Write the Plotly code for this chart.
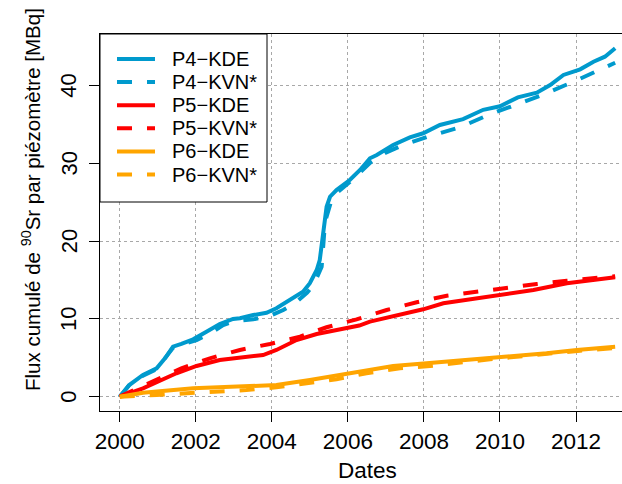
import plotly.graph_objects as go

# Cumulative 90Sr flux per piezometer [MBq], decimal years
p4_kde_t = [2000.0, 2000.25, 2000.61, 2000.97, 2001.2, 2001.40, 2001.62, 2001.93, 2002.28, 2002.63,
            2002.98, 2003.16, 2003.51, 2003.86, 2004.12, 2004.47, 2004.82, 2005.0, 2005.18, 2005.26,
            2005.35, 2005.44, 2005.53, 2005.70, 2006.05, 2006.32, 2006.58, 2006.76, 2007.19, 2007.63,
            2007.98, 2008.42, 2009.03, 2009.56, 2010.0, 2010.47, 2010.97, 2011.32, 2011.67, 2012.11,
            2012.46, 2012.76, 2013.03]
p4_kde_v = [0.0, 1.5, 2.79, 3.65, 5.0, 6.43, 6.78, 7.38, 8.36, 9.35,
            10.0, 10.1, 10.5, 10.8, 11.37, 12.44, 13.5, 14.59, 16.3, 17.58,
            21.0, 24.44, 25.72, 26.58, 27.87, 29.16, 30.66, 31.09, 32.37, 33.36,
            33.88, 34.95, 35.70, 36.9, 37.35, 38.5, 39.1, 40.09, 41.38, 42.11,
            43.09, 43.73, 44.81]

p4_kvn_t = [2000.0, 2000.25, 2000.61, 2000.97, 2001.4, 2001.62, 2002.02, 2002.4, 2002.72, 2003.0,
            2003.51, 2004.0, 2004.3, 2004.6, 2004.93, 2005.1, 2005.31, 2005.40, 2005.57, 2005.75,
            2006.05, 2006.35, 2006.62, 2007.0, 2007.46, 2008.16, 2008.95, 2009.69, 2010.44, 2011.18,
            2011.93, 2012.63, 2012.81, 2013.03]
p4_kvn_v = [0.0, 1.5, 2.7, 3.55, 6.3, 6.7, 7.29, 8.2, 9.22, 9.7,
            9.95, 10.5, 11.15, 12.0, 13.4, 14.4, 16.7, 22.5, 25.3, 26.4,
            27.6, 28.9, 30.23, 31.4, 32.37, 33.53, 34.65, 36.23, 37.65, 38.93,
            40.51, 42.02, 42.44, 42.95]

p5_kde_t = [2000.0, 2000.61, 2001.49, 2002.02, 2002.63, 2003.25, 2003.77, 2004.12, 2004.65, 2005.18,
            2005.88, 2006.3, 2006.58, 2007.19, 2007.98, 2008.51, 2009.56, 2010.88, 2011.76, 2013.03]
p5_kde_v = [0.0, 1.08, 3.01, 3.95, 4.72, 5.02, 5.36, 6.01, 7.29, 8.06,
            8.8, 9.15, 9.65, 10.29, 11.24, 12.01, 12.78, 13.72, 14.59, 15.36]

p5_kvn_t = [2000.0, 2000.88, 2001.62, 2002.37, 2003.16, 2003.95, 2004.74, 2005.44, 2006.23, 2007.02,
            2007.81, 2008.60, 2009.39, 2010.18, 2010.97, 2011.76, 2012.55, 2013.03]
p5_kvn_v = [0.0, 1.93, 3.65, 4.94, 6.01, 6.78, 7.72, 8.93, 9.95, 11.15,
            12.14, 12.99, 13.5, 14.07, 14.5, 14.92, 15.36, 15.5]

p6_kde_t = [2000.0, 2000.61, 2001.93, 2003.25, 2004.12, 2005.0, 2005.88, 2006.58, 2007.19, 2008.07,
            2009.12, 2010.26, 2011.23, 2012.02, 2013.03]
p6_kde_v = [0.0, 0.51, 1.08, 1.38, 1.5, 2.15, 2.92, 3.52, 3.95, 4.3,
            4.72, 5.14, 5.58, 6.01, 6.43]

p6_kvn_t = [2000.0, 2000.26, 2000.97, 2001.76, 2002.55, 2003.33, 2004.12, 2004.91, 2005.70, 2006.49,
            2007.37, 2008.16, 2008.95, 2009.74, 2012.11, 2012.98, 2013.03]
p6_kvn_v = [0.0, 0.09, 0.22, 0.44, 0.64, 0.86, 1.21, 1.72, 2.24, 3.01,
            3.65, 3.95, 4.37, 4.81, 5.92, 6.22, 6.25]

series_names = ["P4\u2212KDE", "P4\u2212KVN*", "P5\u2212KDE", "P5\u2212KVN*", "P6\u2212KDE", "P6\u2212KVN*"]
series_t = [p4_kde_t, p4_kvn_t, p5_kde_t, p5_kvn_t, p6_kde_t, p6_kvn_t]
series_v = [p4_kde_v, p4_kvn_v, p5_kde_v, p5_kvn_v, p6_kde_v, p6_kvn_v]
series_col = ["#009ACD", "#009ACD", "#FF0000", "#FF0000", "#FFA500", "#FFA500"]
series_dash = ["solid", "15px,15px", "solid", "15px,15px", "solid", "15px,15px"]

x_ticks = [2000, 2002, 2004, 2006, 2008, 2010, 2012]
y_ticks = [0, 10, 20, 30, 40]

FONT = "Liberation Sans, Arial, sans-serif"
W, H = 622, 484
ML, MR, MT, MB = 100, 0, 34, 73
PW, PH = W - ML - MR, H - MT - MB
LW = 4


def px(x):
    return (x - ML) / PW


def py(y):
    return 1 - (y - MT) / PH


fig = go.Figure()
for name, t, v, c, d in zip(series_names, series_t, series_v, series_col, series_dash):
    fig.add_trace(go.Scatter(x=t, y=v, mode="lines", name=name, showlegend=False,
                             line=dict(color=c, width=LW, dash=d)))

fig.update_layout(
    width=W, height=H,
    margin=dict(l=ML, r=MR, t=MT, b=MB),
    paper_bgcolor="white", plot_bgcolor="white",
    font=dict(family=FONT, size=20, color="black"),
    xaxis=dict(range=[1999.48, 2013.21], tickvals=x_ticks, ticktext=[str(t) for t in x_ticks],
               ticks="outside", ticklen=10, tickcolor="black", tickwidth=1,
               showline=True, linecolor="black", linewidth=1, mirror=True,
               showgrid=True, gridcolor="#a8a8a8", griddash="dot", gridwidth=1,
               zeroline=False, tickfont=dict(size=22.5), ticklabelstandoff=0),
    yaxis=dict(range=[-1.84, 46.65], tickvals=y_ticks, showticklabels=False,
               ticks="outside", ticklen=10, tickcolor="black", tickwidth=1,
               showline=True, linecolor="black", linewidth=1,
               showgrid=True, gridcolor="#a8a8a8", griddash="dot", gridwidth=1,
               zeroline=False),
)

# y tick labels, written parallel to the axis
for v in y_ticks:
    fig.add_annotation(text=str(v), xref="paper", yref="y", x=px(69), y=v, xanchor="center",
                       yanchor="middle", textangle=-90, showarrow=False, font=dict(size=22))

# axis titles
fig.add_annotation(text="Dates", xref="paper", yref="paper", x=px(367), y=py(470),
                   xanchor="center", yanchor="middle", showarrow=False, font=dict(size=22.5))
fig.add_annotation(text="Flux cumulé de <sup>90</sup>Sr par piézomètre [MBq]", xref="paper", yref="paper",
                   x=px(31), y=py(200), xanchor="center", yanchor="middle", textangle=-90,
                   showarrow=False, font=dict(size=20.5))

# legend box
LEG_L, LEG_R, LEG_T, LEG_B = 100, 267, 34, 202
fig.add_shape(type="rect", xref="paper", yref="paper", x0=px(LEG_L), x1=px(LEG_R), y0=py(LEG_B), y1=py(LEG_T),
              line=dict(color="black", width=1), fillcolor="white", layer="above")
for i, (name, c, d) in enumerate(zip(series_names, series_col, series_dash)):
    yy = 59 + 23.1 * i
    fig.add_shape(type="line", xref="paper", yref="paper", x0=px(117), x1=px(155), y0=py(yy), y1=py(yy),
                  line=dict(color=c, width=LW, dash=d), layer="above")
    fig.add_annotation(text=name, xref="paper", yref="paper", x=px(170), y=py(yy), xanchor="left",
                       yanchor="middle", showarrow=False, font=dict(size=20))

fig.write_html("out.html")
